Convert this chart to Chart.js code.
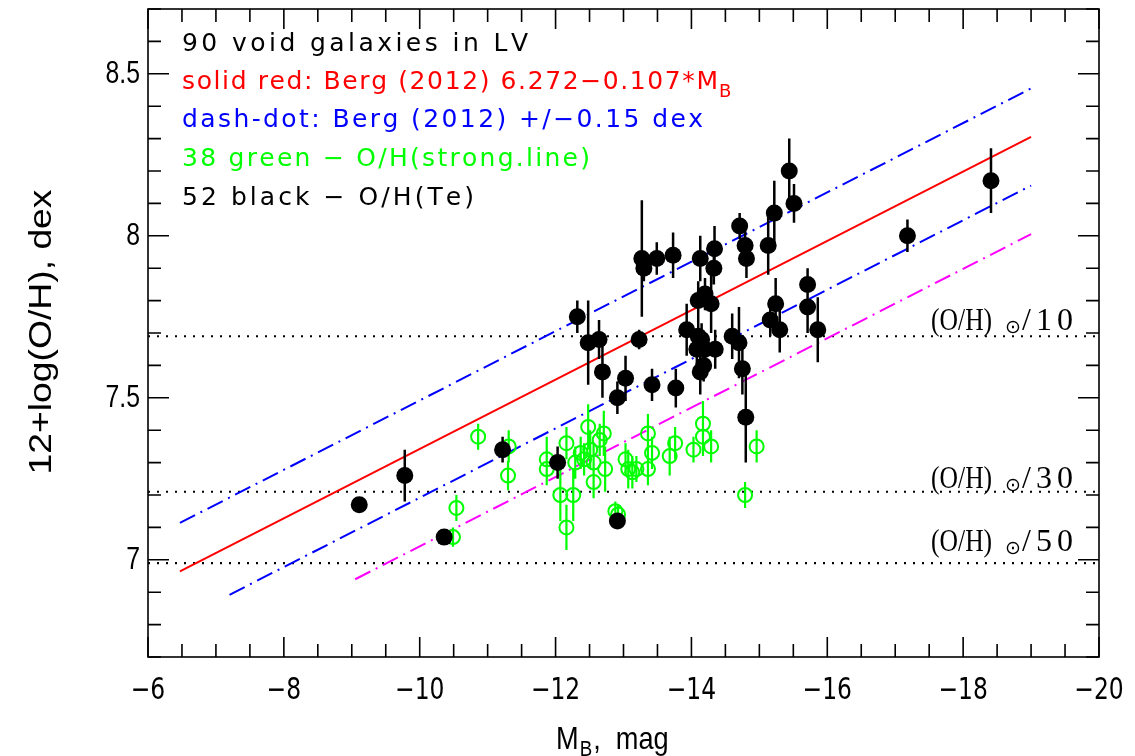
<!DOCTYPE html>
<html>
<head>
<meta charset="utf-8">
<script src="https://cdn.jsdelivr.net/npm/chart.js@4.4.0/dist/chart.umd.min.js"></script>
<style>
  html, body { margin: 0; background: #fff; }
</style>
</head>
<body>
<canvas id="c" width="1135" height="756"></canvas>
<script>
// 52 black - O/H(Te)
const teMag = [-9.11, -9.78, -10.36, -11.22, -12.03, -12.91, -12.32, -12.48, -12.64, -12.69, -12.91, -13.03, -13.23, -13.27, -13.30, -13.49, -13.42, -13.73, -13.77, -13.93, -14.10, -14.20, -14.29, -14.13, -14.34, -14.33, -14.71, -14.79, -14.81, -15.13, -15.22, -15.44, -15.51, -15.24, -15.16, -15.30, -15.71, -15.71, -15.86, -14.10, -14.08, -14.20, -14.35, -14.18, -14.13, -14.60, -14.70, -14.75, -14.80, -17.18, -18.41, -14.15];
const teOH = [7.17, 7.26, 7.07, 7.34, 7.30, 7.12, 7.75, 7.67, 7.68, 7.58, 7.50, 7.56, 7.68, 7.93, 7.90, 7.93, 7.54, 7.94, 7.53, 7.71, 7.80, 7.82, 7.79, 7.93, 7.96, 7.90, 8.03, 7.97, 7.93, 7.97, 8.07, 8.20, 8.10, 7.79, 7.74, 7.71, 7.85, 7.78, 7.71, 7.69, 7.65, 7.65, 7.65, 7.60, 7.58, 7.69, 7.67, 7.59, 7.44, 8.00, 8.17, 7.68];
const teErr = [0.02, 0.08, 0.02, 0.04, 0.05, 0.02, 0.05, 0.13, 0.06, 0.08, 0.05, 0.07, 0.03, 0.18, 0.04, 0.05, 0.05, 0.07, 0.06, 0.08, 0.06, 0.05, 0.09, 0.07, 0.07, 0.05, 0.04, 0.05, 0.06, 0.09, 0.10, 0.10, 0.06, 0.08, 0.05, 0.07, 0.05, 0.08, 0.10, 0.05, 0.05, 0.05, 0.06, 0.05, 0.07, 0.07, 0.11, 0.08, 0.14, 0.05, 0.10, 0.05];

// 38 green - O/H(strong line)
const slMag = [-10.49, -10.54, -10.86, -11.31, -11.30, -11.87, -11.87, -12.07, -12.16, -12.16, -12.26, -12.29, -12.37, -12.42, -12.48, -12.51, -12.56, -12.56, -12.65, -12.71, -12.73, -12.88, -12.92, -13.03, -13.07, -13.13, -13.19, -13.36, -13.42, -13.36, -13.68, -13.76, -14.03, -14.17, -14.17, -14.29, -14.96, -14.79];
const slOH = [7.07, 7.16, 7.38, 7.35, 7.26, 7.31, 7.28, 7.20, 7.10, 7.36, 7.20, 7.30, 7.33, 7.31, 7.41, 7.34, 7.30, 7.24, 7.37, 7.39, 7.28, 7.15, 7.14, 7.31, 7.28, 7.27, 7.28, 7.39, 7.33, 7.28, 7.32, 7.36, 7.34, 7.42, 7.38, 7.35, 7.35, 7.20];
const slErr = [0.03, 0.04, 0.04, 0.05, 0.045, 0.07, 0.05, 0.08, 0.07, 0.05, 0.08, 0.05, 0.05, 0.05, 0.07, 0.06, 0.06, 0.05, 0.05, 0.07, 0.07, 0.03, 0.03, 0.05, 0.06, 0.05, 0.04, 0.06, 0.05, 0.05, 0.06, 0.05, 0.04, 0.07, 0.06, 0.05, 0.05, 0.04];

// Berg (2012) relation and offsets, end points
const bergX = [-6.47, -19.0];
const bergY = [6.964, 8.305];
const bergUpY = [7.114, 8.455];
const bergLoX = [-7.2, -19.0];
const bergLoY = [6.892, 8.155];
const magX = [-9.05, -19.0];
const magY = [6.940, 8.005];

// solar fractions
const solarOH = [7.69, 7.21, 6.99];
const solarFrac = ['10', '30', '50'];

const xTicks = [-6, -8, -10, -12, -14, -16, -18, -20];
const yTicks = [7, 7.5, 8, 8.5];

const GREEN = '#00ff00';

function pairs(xs, ys) {
    return xs.map((x, i) => ({x: x, y: ys[i]}));
}
function errBars(xs, ys, es) {
    const pts = [];
    xs.forEach((x, i) => {
        pts.push({x: x, y: ys[i] - es[i]}, {x: x, y: ys[i] + es[i]}, {x: x, y: null});
    });
    return pts;
}

const dashDot = [17, 6, 2, 6];

const datasets = [];
solarOH.forEach(v => {
    datasets.push({data: [{x: -6, y: v}, {x: -20, y: v}], borderColor: '#000', borderWidth: 2.2,
        borderDash: [2, 7], showLine: true, pointRadius: 0, order: 10});
});
datasets.push({data: pairs(bergX, bergY), borderColor: '#ff0000', borderWidth: 2, showLine: true, pointRadius: 0, order: 9});
datasets.push({data: pairs(bergX, bergUpY), borderColor: '#0000ff', borderWidth: 2, borderDash: dashDot, showLine: true, pointRadius: 0, order: 9});
datasets.push({data: pairs(bergLoX, bergLoY), borderColor: '#0000ff', borderWidth: 2, borderDash: dashDot, showLine: true, pointRadius: 0, order: 9});
datasets.push({data: pairs(magX, magY), borderColor: '#ff00ff', borderWidth: 2, borderDash: dashDot, showLine: true, pointRadius: 0, order: 9});
datasets.push({data: errBars(slMag, slOH, slErr), borderColor: GREEN, borderWidth: 2.2, showLine: true, spanGaps: false, pointRadius: 0, order: 8});
datasets.push({data: pairs(slMag, slOH), pointRadius: 7, pointBorderWidth: 2, pointBorderColor: GREEN,
    pointBackgroundColor: 'rgba(0,0,0,0)', showLine: false, order: 7});
datasets.push({data: errBars(teMag, teOH, teErr), borderColor: '#000', borderWidth: 2.5, showLine: true, spanGaps: false, pointRadius: 0, order: 6});
datasets.push({data: pairs(teMag, teOH), pointRadius: 8.5, pointBorderWidth: 0, pointBackgroundColor: '#000',
    showLine: false, order: 5});

// text squeezed/stretched char by char to a given width
function spaced(ctx, text, x, y, w) {
    const widths = [...text].map(ch => ctx.measureText(ch).width);
    const total = widths.reduce((a, b) => a + b, 0);
    const extra = text.length > 1 ? (w - total) / (text.length - 1) : 0;
    let cx = x;
    [...text].forEach((ch, i) => {
        ctx.fillText(ch, cx, y);
        cx += widths[i] + extra;
    });
    return cx - extra;
}
// text drawn with a horizontal scale factor k; align: 'left' | 'center' | 'right'
function narrow(ctx, text, x, y, k, align) {
    const w = ctx.measureText(text).width * k;
    let x0 = x;
    if (align === 'center') x0 = x - w / 2;
    if (align === 'right') x0 = x - w;
    ctx.save();
    ctx.translate(x0, y);
    ctx.scale(k, 1);
    ctx.fillText(text, 0, 0);
    ctx.restore();
    return x0 + w;
}

const decor = {
    id: 'decor',
    afterDraw(chart) {
        const ctx = chart.ctx;
        const a = chart.chartArea;
        const xs = chart.scales.x, ys = chart.scales.y;
        ctx.save();
        ctx.strokeStyle = '#000';
        ctx.lineWidth = 1.6;
        ctx.strokeRect(a.left, a.top, a.right - a.left, a.bottom - a.top);
        ctx.beginPath();
        for (let v = -20; v <= -6 + 1e-9; v += 0.5) {
            const px = xs.getPixelForValue(v);
            const len = Math.abs(v % 2) < 1e-6 ? 20 : 13;
            ctx.moveTo(px, a.bottom); ctx.lineTo(px, a.bottom - len);
            ctx.moveTo(px, a.top); ctx.lineTo(px, a.top + len);
        }
        for (let k = 0; k <= 20; k++) {
            const v = 6.7 + k * 0.1;
            const py = ys.getPixelForValue(v);
            const major = Math.abs(v * 2 - Math.round(v * 2)) < 1e-6;
            const len = major ? 21 : 13;
            ctx.moveTo(a.left, py); ctx.lineTo(a.left + len, py);
            ctx.moveTo(a.right, py); ctx.lineTo(a.right - len, py);
        }
        ctx.stroke();

        // tick labels
        ctx.fillStyle = '#000';
        ctx.textBaseline = 'middle';
        ctx.font = '31px "Liberation Sans"';
        yTicks.forEach(v => narrow(ctx, String(v), a.left - 8, ys.getPixelForValue(v) + 1, 0.8, 'right'));
        ctx.font = '30px "DejaVu Sans"';
        xTicks.forEach(v => narrow(ctx, '\u2212' + Math.abs(v), xs.getPixelForValue(v), a.bottom + 34, 0.78, 'center'));

        // legend text block
        ctx.textBaseline = 'alphabetic';
        ctx.font = '25px "DejaVu Sans"';
        ctx.fillStyle = '#000';
        spaced(ctx, '90 void galaxies in LV', 182, 51, 346);
        ctx.fillStyle = '#ff0000';
        const endM = spaced(ctx, 'solid red: Berg (2012) 6.272\u22120.107*M', 182, 89, 536);
        ctx.font = '18px "DejaVu Sans"';
        ctx.fillText('B', endM + 1, 97);
        ctx.font = '25px "DejaVu Sans"';
        ctx.fillStyle = '#0000ff';
        spaced(ctx, 'dash-dot: Berg (2012) +/\u22120.15 dex', 182, 127, 521);
        ctx.fillStyle = GREEN;
        spaced(ctx, '38 green \u2212 O/H(strong.line)', 182, 166, 408);
        ctx.fillStyle = '#000';
        spaced(ctx, '52 black \u2212 O/H(Te)', 182, 205, 292);

        // solar labels
        solarOH.forEach((v, i) => {
            const base = [330, 488, 551][i];
            ctx.fillStyle = '#000';
            ctx.font = '32px "Liberation Serif"';
            narrow(ctx, '(O/H)', 931, base, 0.8, 'left');
            ctx.font = '19px "DejaVu Sans"';
            ctx.textAlign = 'center';
            ctx.textBaseline = 'middle';
            ctx.fillText('\u2299', 1013, base - 2);
            ctx.textAlign = 'left';
            ctx.textBaseline = 'alphabetic';
            ctx.font = '32px "Liberation Serif"';
            spaced(ctx, '/' + solarFrac[i], 1022, base, 51);
        });

        // axis titles
        ctx.fillStyle = '#000';
        ctx.font = '32px "Liberation Sans"';
        let ex = narrow(ctx, 'M', 556, 749, 0.85, 'left');
        ctx.font = '22px "Liberation Sans"';
        ex = narrow(ctx, 'B', ex + 1, 756, 0.85, 'left');
        ctx.font = '32px "Liberation Sans"';
        narrow(ctx, ',  mag', ex + 1, 749, 0.85, 'left');

        ctx.translate(51, 332);
        ctx.rotate(-Math.PI / 2);
        ctx.font = '32px "Liberation Sans"';
        narrow(ctx, '12+log(O/H), dex', 0, 0, 285 / ctx.measureText('12+log(O/H), dex').width, 'center');
        ctx.restore();
    }
};

new Chart(document.getElementById('c'), {
    type: 'scatter',
    data: {datasets: datasets},
    options: {
        responsive: false,
        animation: false,
        events: [],
        layout: {padding: {left: 0, right: 36, top: 6, bottom: 0}},
        plugins: {legend: {display: false}, tooltip: {enabled: false}},
        scales: {
            x: {
                type: 'linear', min: -20, max: -6, reverse: true,
                grid: {display: false, drawTicks: false},
                border: {display: false},
                ticks: {display: false},
                afterFit: s => { s.height = 99; s.paddingLeft = 0; s.paddingRight = 0; },
                afterBuildTicks: s => { s.ticks = xTicks.map(v => ({value: v})); }
            },
            y: {
                type: 'linear', min: 6.7, max: 8.7,
                grid: {display: false, drawTicks: false},
                border: {display: false},
                ticks: {display: false},
                afterFit: s => { s.width = 148; s.paddingTop = 0; s.paddingBottom = 0; },
                afterBuildTicks: s => { s.ticks = yTicks.map(v => ({value: v})); }
            }
        }
    },
    plugins: [decor]
});
</script>
</body>
</html>
